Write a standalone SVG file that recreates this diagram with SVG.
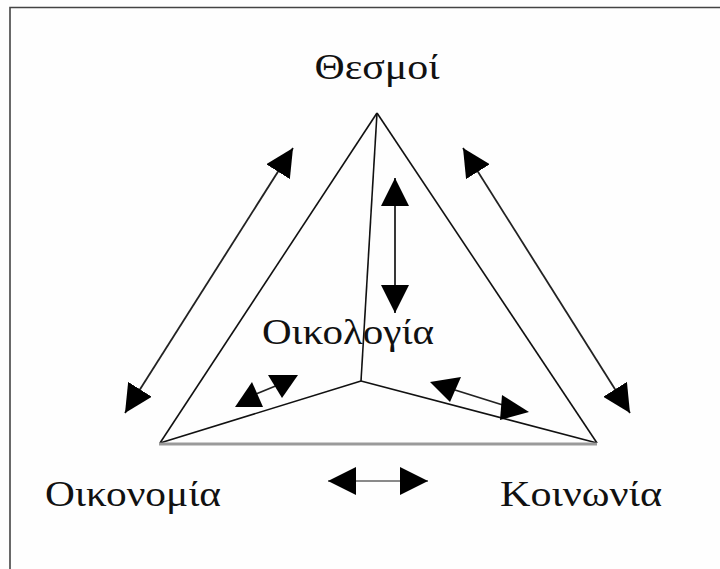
<svg xmlns="http://www.w3.org/2000/svg" width="720" height="569" viewBox="0 0 720 569">
<style>
.lbl{font-family:"Liberation Serif","DejaVu Serif",serif;font-size:35px;fill:#111}
.edge{stroke:#111;stroke-width:1.6;fill:none}
.base{stroke:#9a9a9a;stroke-width:3;fill:none}
.arr{stroke:#222;stroke-width:1.8;fill:none;marker-start:url(#ah);marker-end:url(#ah)}
.arrg{stroke:#8a8a8a;stroke-width:2.2;fill:none;marker-start:url(#ah);marker-end:url(#ah)}
.head{fill:#000}
</style>
<defs>
<marker id="ah" viewBox="0 0 28 28" refX="28" refY="14" markerUnits="userSpaceOnUse" markerWidth="28" markerHeight="28" orient="auto-start-reverse">
<path d="M0,0 L28,14 L0,28 z" fill="#000"/>
</marker>
</defs>
<rect width="720" height="569" fill="#fefefe"/>
<path d="M10,569 V7.5 H720" stroke="#444" stroke-width="1.6" fill="none"/>
<g id="triangle">
<line class="edge" x1="377" y1="113" x2="160" y2="443"/>
<line class="edge" x1="377" y1="113" x2="597" y2="443"/>
<line class="edge" x1="377" y1="113" x2="361" y2="381"/>
<line class="edge" x1="361" y1="381" x2="160" y2="443"/>
<line class="edge" x1="361" y1="381" x2="597" y2="443"/>
<line class="base" x1="159" y1="444" x2="597" y2="444"/>
</g>
<g id="thesmoi"><text class="lbl" x="377" y="79" text-anchor="middle" textLength="125" lengthAdjust="spacingAndGlyphs">Θεσμοί</text></g>
<g id="oikologia"><text class="lbl" x="262" y="344" textLength="172" lengthAdjust="spacingAndGlyphs">Οικολογία</text></g>
<g id="oikonomia"><text class="lbl" x="45" y="506" textLength="176" lengthAdjust="spacingAndGlyphs">Οικονομία</text></g>
<g id="koinonia"><text class="lbl" x="500" y="506" textLength="162" lengthAdjust="spacingAndGlyphs">Κοινωνία</text></g>
<g id="connectors">
<line class="arr" x1="125" y1="413" x2="293" y2="148"/>
<line class="arr" x1="630" y1="413" x2="463" y2="148"/>
<line class="arr" x1="395" y1="178" x2="395" y2="313"/>
<line class="arrg" x1="328" y1="481" x2="428" y2="481"/>
<line stroke="#222" stroke-width="1.8" x1="256" y1="394" x2="278" y2="385"/>
<polygon class="head" points="235,407 263,407 252,382"/>
<polygon class="head" points="268,375 298,375 282,398"/>
<line stroke="#222" stroke-width="1.8" x1="455" y1="390" x2="506" y2="406"/>
<polygon class="head" points="430,382 461,377 450,402"/>
<polygon class="head" points="502,395 529,412 500,420"/>
</g>
</svg>
